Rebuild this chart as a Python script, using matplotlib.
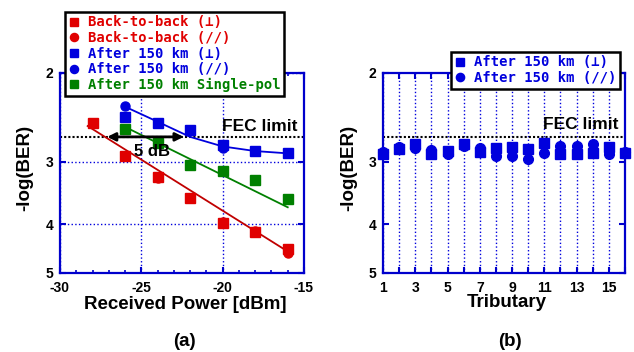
import numpy as np
import matplotlib.pyplot as plt
from matplotlib.ticker import FixedLocator, NullLocator

plt.rcParams['font.family'] = ['Liberation Sans', 'DejaVu Sans']
plt.rcParams['font.weight'] = 'bold'
plt.rcParams['axes.unicode_minus'] = False

# ---- panel (a): -log(BER) vs received power
power = [-28, -26, -24, -22, -20, -18, -16]
b2b_perp = [2.51, 2.93, 3.22, 3.55, 3.98, 4.15, 4.48]
b2b_par_x = [-24, -20, -18, -16]
b2b_par = [3.24, 3.96, 4.12, 4.57]
km150_x = [-26, -24, -22, -20, -18, -16]
km150_perp = [2.45, 2.51, 2.60, 2.78, 2.86, 2.88]
km150_par_x = [-26, -20, -16]
km150_par = [2.33, 2.82, 2.89]
single_pol = [2.58, 2.75, 3.05, 3.14, 3.27, 3.56]

# fitted curves as drawn in the picture
b2b_fit_x = [-28.3, -16]
b2b_fit = [2.55, 4.53]
single_fit_x = [-25.9, -16]
single_fit = [2.57, 3.70]
km150_fit_x = [-25.8, -24, -22, -20, -18, -16]
km150_fit = [2.35, 2.50, 2.68, 2.80, 2.86, 2.89]

fec = 2.68
arrow_x = [-27.1, -22.4]

# ---- panel (b): per tributary after 150 km
trib = list(range(1, 17))
trib_perp = [2.90, 2.83, 2.77, 2.90, 2.86, 2.77, 2.87, 2.82,
             2.81, 2.83, 2.76, 2.90, 2.90, 2.88, 2.81, 2.88]
trib_par = [2.87, 2.81, 2.82, 2.84, 2.90, 2.79, 2.82, 2.92,
            2.92, 2.97, 2.89, 2.79, 2.80, 2.77, 2.90, 2.87]

RED = '#e00000'
REDL = '#c00000'
BLUE = '#0000dd'
GREEN = '#008000'
SPINE = '#0000cc'

fig = plt.figure(figsize=(6.34, 3.52), dpi=100)
ax1 = fig.add_axes([60/634, 1-273/352, 244/634, 200/352])
ax2 = fig.add_axes([383/634, 1-273/352, 242/634, 200/352])

legfont = {'family': ['DejaVu Sans Mono', 'DejaVu Sans'], 'weight': 'bold', 'size': 10}


def style(ax):
    ax.set_yscale('log')
    ax.set_ylim(5, 2)
    ax.yaxis.set_major_locator(FixedLocator([2, 3, 4, 5]))
    ax.yaxis.set_minor_locator(NullLocator())
    ax.set_yticklabels(['2', '3', '4', '5'])
    for s in ax.spines.values():
        s.set_color(SPINE)
        s.set_linewidth(1.6)
    ax.tick_params(which='both', direction='in', top=True, right=True,
                   color=SPINE, labelsize=10)
    ax.tick_params(axis='x', pad=5.5)
    ax.tick_params(axis='y', pad=5)
    ax.tick_params(which='major', length=4, width=1.5)
    ax.tick_params(which='minor', length=2.2, width=1.2)
    for t in ax.get_xticklabels() + ax.get_yticklabels():
        t.set_fontweight('bold')


# panel (a)
style(ax1)
ax1.set_xlim(-30, -15)
ax1.set_xticks([-30, -25, -20, -15])
ax1.set_xticklabels(['-30', '-25', '-20', '-15'])
ax1.xaxis.set_minor_locator(FixedLocator(np.arange(-30, -14, 1)))
ax1.grid(True, which='major', color=BLUE, linestyle=':', linewidth=1)
style(ax1)

ax1.plot(b2b_fit_x, b2b_fit, color=REDL, lw=1.3, zorder=3)
ax1.plot(single_fit_x, single_fit, color=GREEN, lw=1.3, zorder=3)
ax1.plot(km150_fit_x, km150_fit, color=BLUE, lw=1.3, zorder=3)
ax1.axhline(fec, color='black', ls=(0, (1, 1)), lw=1.5, zorder=2)

ms = 6.5
ax1.plot(power, b2b_perp, 's', color=RED, ms=ms, ls='none', zorder=4, label='Back-to-back (⊥)')
ax1.plot(b2b_par_x, b2b_par, 'o', color=RED, ms=ms, ls='none', zorder=4, label='Back-to-back (//)')
ax1.plot(km150_x, km150_perp, 's', color=BLUE, ms=ms, ls='none', zorder=4, label='After 150 km (⊥)')
ax1.plot(km150_par_x, km150_par, 'o', color=BLUE, ms=ms, ls='none', zorder=4, label='After 150 km (//)')
ax1.plot(km150_x, single_pol, 's', color=GREEN, ms=ms, ls='none', zorder=4, label='After 150 km Single-pol')

ax1.annotate('', xy=(arrow_x[0], fec), xytext=(arrow_x[1], fec),
             arrowprops=dict(arrowstyle='<|-|>', color='black', lw=2,
                             mutation_scale=12, shrinkA=0, shrinkB=0), zorder=5)
ax1.text(-24.36, 2.86, '5 dB', fontsize=12, fontweight='bold', ha='center', va='center', zorder=6)
ax1.text(-15.4, 2.55, 'FEC limit', fontsize=12.5, fontweight='bold', ha='right', va='center')

leg1 = ax1.legend(loc='upper left', bbox_to_anchor=(65/634, 1-12/352), bbox_transform=fig.transFigure,
                  prop=legfont, handlelength=0.8, handletextpad=0.6, labelspacing=0.12,
                  borderpad=0.25, borderaxespad=0, fancybox=False, framealpha=1,
                  edgecolor='black', markerscale=0.9)
leg1.get_frame().set_linewidth(1.8)
for txt, c in zip(leg1.get_texts(), [RED, RED, BLUE, BLUE, GREEN]):
    txt.set_color(c)
leg1.set_zorder(10)

ax1.set_xlabel('Received Power [dBm]', fontsize=13.5, fontweight='bold')
ax1.xaxis.set_label_coords(0.512, -0.115)
ax1.set_ylabel('-log(BER)', fontsize=13.5, fontweight='bold')
ax1.yaxis.set_label_coords(-0.11, 0.525)
ax1.text(0.512, -0.345, '(a)', transform=ax1.transAxes, fontsize=13.5,
         fontweight='bold', ha='center', va='center')

# panel (b)
style(ax2)
ax2.set_xlim(1, 16)
ax2.set_xticks(np.arange(1, 17))
ax2.set_xticklabels([str(i) if i % 2 == 1 else '' for i in range(1, 17)])
ax2.xaxis.grid(True, color=BLUE, linestyle=':', linewidth=1)
style(ax2)
ax2.axhline(fec, color='black', ls=(0, (1, 1)), lw=1.5, zorder=2)

ms2 = 7
ax2.plot(trib, trib_perp, 's', color=BLUE, ms=ms2, ls='none', zorder=4, clip_on=False,
         label='After 150 km (⊥)')
ax2.plot(trib, trib_par, 'o', color=BLUE, ms=ms2, ls='none', zorder=4, clip_on=False,
         label='After 150 km (//)')
ax2.text(15.57, 2.53, 'FEC limit', fontsize=12.5, fontweight='bold', ha='right', va='center')

leg2 = ax2.legend(loc='upper left', bbox_to_anchor=(451/634, 1-52/352), bbox_transform=fig.transFigure,
                  prop=legfont, handlelength=0.8, handletextpad=0.6, labelspacing=0.12,
                  borderpad=0.25, borderaxespad=0, fancybox=False, framealpha=1,
                  edgecolor='black', markerscale=0.85)
leg2.get_frame().set_linewidth(1.8)
for txt in leg2.get_texts():
    txt.set_color(BLUE)
leg2.set_zorder(10)

ax2.set_xlabel('Tributary', fontsize=13.5, fontweight='bold')
ax2.xaxis.set_label_coords(0.511, -0.105)
ax2.set_ylabel('-log(BER)', fontsize=13.5, fontweight='bold')
ax2.yaxis.set_label_coords(-0.107, 0.525)
ax2.text(0.525, -0.345, '(b)', transform=ax2.transAxes, fontsize=13.5,
         fontweight='bold', ha='center', va='center')

fig.savefig('out.png', dpi=100)
